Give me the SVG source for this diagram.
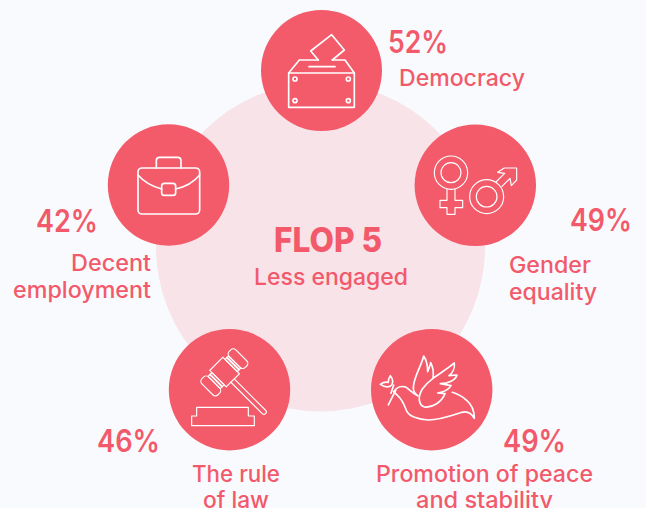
<svg xmlns="http://www.w3.org/2000/svg" width="646" height="508" viewBox="0 0 646 508">
<style>
.dot{fill:#f35a6a}
.ic{fill:none;stroke:#fff;stroke-width:5;stroke-linejoin:round;stroke-linecap:round}
.ict{fill:none;stroke:#fff;stroke-width:3.5;stroke-linejoin:round;stroke-linecap:round}
text{font-family:"Inter","Liberation Sans",sans-serif;fill:#f25a6b}
.p{font-size:31px;font-weight:600}
.l{font-size:22.5px;font-weight:500}
</style>
<rect width="646" height="508" fill="#f9fafd"/>
<circle id="backdrop" cx="320.5" cy="247" r="164.5" fill="#f7e3e8"/>
<g id="center">
<text x="274" y="252" font-size="33.5" font-weight="800" textLength="108" lengthAdjust="spacingAndGlyphs">FLOP 5</text>
<text x="254" y="284.5" class="l" textLength="154" lengthAdjust="spacingAndGlyphs">Less engaged</text>
</g>
<g id="connectors"></g>
<g id="democracy">
<circle class="dot" cx="321.5" cy="70.5" r="60.5"/>
<g transform="translate(255 0) scale(.3333)" class="ic">
<path d="M101,219H298V322H101Z"/>
<path d="M101,219L133,180H190M232,180H270L298,219"/>
<path d="M162,200H240"/>
<path d="M190,180L167,153L230,104L268,150L232,180"/>
<circle cx="120" cy="237" r="6"/><circle cx="280" cy="237" r="6"/><circle cx="120" cy="302" r="6"/><circle cx="280" cy="302" r="6"/>
</g>
<text x="388" y="53" class="p" textLength="60" lengthAdjust="spacingAndGlyphs">52%</text>
<text x="399" y="86" class="l" textLength="126" lengthAdjust="spacingAndGlyphs">Democracy</text>
</g>
<g id="gender-equality">
<circle class="dot" cx="475.3" cy="185.3" r="60.7"/>
<g transform="translate(410 120) scale(.3333)" class="ict">
<circle cx="123" cy="158" r="50"/><circle cx="123" cy="158" r="30"/>
<path d="M111,207V241H90V263H111V283H135V263H158V241H135V207"/>
<circle cx="230" cy="230" r="51"/><circle cx="230" cy="230" r="31"/>
<path d="M258,186L284,160L263,157L283,144H320V180L304,197L300,175L276,199"/>
</g>
<text x="570" y="231" class="p" textLength="62" lengthAdjust="spacingAndGlyphs">49%</text>
<text x="509" y="273" class="l" textLength="82" lengthAdjust="spacingAndGlyphs">Gender</text>
<text x="509" y="300" class="l" textLength="88" lengthAdjust="spacingAndGlyphs">equality</text>
</g>
<g id="peace">
<circle class="dot" cx="431.7" cy="389.7" r="60.7"/>
<g transform="translate(365 325) scale(.3333)" class="ic">
<path d="M86,200C95,186 110,182 122,186C132,192 140,204 158,212"/>
<path d="M86,200L98,212C110,222 118,240 124,256C132,274 160,284 190,285C225,285 260,272 290,262C305,258 318,262 328,280C328,262 322,240 305,226C292,214 278,207 262,202"/>
<path d="M158,212C148,205 142,196 146,180C150,150 170,120 176,93C184,104 188,125 188,140C192,130 196,120 197,113C204,126 206,145 204,160C225,145 250,130 268,114C270,130 262,145 252,152L276,150C272,165 250,176 226,176L258,182C250,195 232,202 218,204L240,206C230,232 200,250 178,246C160,240 158,215 172,192C182,178 196,166 204,160"/>
<path d="M92,196L70,240M86,180L78,205"/>
<path d="M80,180C72,188 58,186 46,178C56,170 62,170 70,172C70,164 72,158 76,152C82,160 86,170 80,180Z"/>
</g>
<text x="503" y="452" class="p" textLength="63" lengthAdjust="spacingAndGlyphs">49%</text>
<text x="376" y="482" class="l" textLength="217" lengthAdjust="spacingAndGlyphs">Promotion of peace</text>
<text x="416" y="508" class="l" textLength="137" lengthAdjust="spacingAndGlyphs">and stability</text>
</g>
<g id="rule-of-law">
<circle class="dot" cx="229.5" cy="389.7" r="60.7"/>
<g transform="translate(165 335) scale(.3333)" class="ict">
<path d="M95,217H250V243H268V272H80V243H95Z"/>
<g transform="translate(178 112) rotate(-45)">
<rect x="-27" y="-35" width="56" height="70"/>
<rect x="-43" y="-26" width="16" height="52"/>
<rect x="29" y="-26" width="15" height="52"/>
<rect x="-36" y="-26" width="2" height="52"/>
<rect x="36" y="-26" width="2" height="52"/>
<rect x="44" y="-34" width="28" height="68" rx="11"/>
<rect x="-72" y="-34" width="29" height="68" rx="11"/>
<path d="M-7,35V168A7,7 0 0 0 7,168V35"/>
</g>
</g>
<text x="97" y="452" class="p" textLength="63" lengthAdjust="spacingAndGlyphs">46%</text>
<text x="192" y="482" class="l" textLength="88" lengthAdjust="spacingAndGlyphs">The rule</text>
<text x="203" y="508" class="l" textLength="66" lengthAdjust="spacingAndGlyphs">of law</text>
</g>
<g id="employment">
<circle class="dot" cx="168.5" cy="185" r="60.7"/>
<g transform="translate(105 125) scale(.3333)" class="ic">
<rect x="99" y="129" width="185" height="138" rx="12"/>
<path d="M154,129V107Q154,97 164,97H218Q228,97 228,107V129"/>
<rect x="170" y="175" width="42" height="36" rx="8"/>
<path d="M99,150Q125,180 170,192M212,192Q258,182 284,150"/>
</g>
<text x="36" y="231.5" class="p" textLength="62" lengthAdjust="spacingAndGlyphs">42%</text>
<text x="71" y="271" class="l" textLength="80" lengthAdjust="spacingAndGlyphs">Decent</text>
<text x="13" y="298" class="l" textLength="138" lengthAdjust="spacingAndGlyphs">employment</text>
</g>
</svg>
